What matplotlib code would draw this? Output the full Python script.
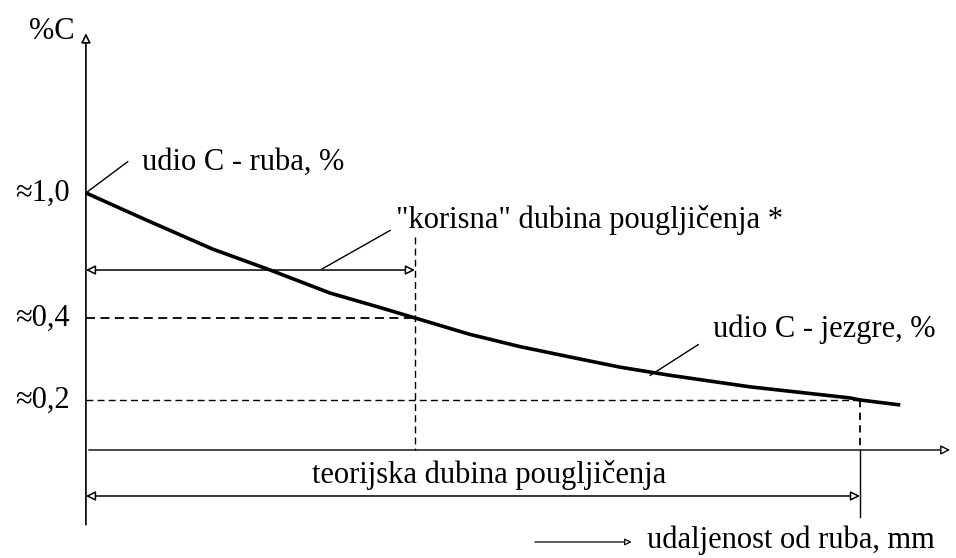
import numpy as np
import matplotlib
matplotlib.use('Agg')
import matplotlib.pyplot as plt

# udaljenost od ruba (proizvoljne jedinice, teorijska dubina = 10) i udio C u %
x_mm = [0.0, 0.78, 1.64, 2.38, 3.15, 3.80, 4.25, 4.96, 5.61, 6.25, 6.90, 7.55, 8.58, 9.87, 10.0, 10.52]
c_pct = [1.0, 0.87, 0.73, 0.63, 0.52, 0.45, 0.40, 0.36, 0.33, 0.305, 0.28, 0.26, 0.232, 0.205, 0.20, 0.18]

tick_vals = [1.0, 0.4, 0.2]
tick_labels = ['≈1,0', '≈0,4', '≈0,2']
c_rub = 1.0
c_jezgra = 0.2
dubina_korisna = 4.25
dubina_teor = 10.0

# shematska (nelinearna) os y kao na crtezu
anchor_v = np.array([-0.5, 0.0, 0.2, 0.4, 1.0, 2.0])
anchor_p = np.array([-125.0, 0.0, 50.0, 132.0, 257.0, 465.3])

def fwd(v):
    return np.interp(v, anchor_v, anchor_p)

def inv(p):
    return np.interp(p, anchor_p, anchor_v)

plt.rcParams['font.family'] = ['Liberation Serif', 'DejaVu Serif']
fs = 22

fig = plt.figure(figsize=(9.56, 5.58), dpi=100)
ax = fig.add_axes([0, 0, 1, 1])
ax.set_yscale('function', functions=(fwd, inv))
ax.set_xlim(-1.11, 11.24)
ax.set_ylim(-0.432, 1.926)
ax.axis('off')

k = 'black'
# osi
ax.annotate('', xy=(0, 1.78), xytext=(0, -0.31),
            arrowprops=dict(arrowstyle='-|>', color=k, lw=1.2, fc='white', mutation_scale=14))
ax.annotate('', xy=(11.2, 0), xytext=(0, 0),
            arrowprops=dict(arrowstyle='-|>', color=k, lw=1.0, fc='white', mutation_scale=14))

# krivulja
ax.plot(x_mm, c_pct, color=k, lw=2.6, solid_capstyle='butt')

# pomocne crtkane linije
ax.plot([0, dubina_korisna], [0.4, 0.4], color=k, lw=1.3, ls=(0, (5, 3)))
ax.plot([dubina_korisna, dubina_korisna], [0.79, 0.0], color=k, lw=1.0, ls=(0, (5, 3)))
ax.plot([0, dubina_teor], [c_jezgra, c_jezgra], color=k, lw=1.0, ls=(0, (5, 3)))
ax.plot([dubina_teor, dubina_teor], [c_jezgra, 0.0], color=k, lw=1.3, ls=(0, (4, 3)))
ax.plot([dubina_teor, dubina_teor], [0.0, -0.27], color=k, lw=1.0)

# strelice dubina
ax.annotate('', xy=(0, 0.63), xytext=(dubina_korisna, 0.63),
            arrowprops=dict(arrowstyle='<|-|>', color=k, lw=1.1, fc='white', mutation_scale=14, shrinkA=0, shrinkB=0))
ax.annotate('', xy=(0, -0.184), xytext=(dubina_teor, -0.184),
            arrowprops=dict(arrowstyle='<|-|>', color=k, lw=1.1, fc='white', mutation_scale=14, shrinkA=0, shrinkB=0))

# oznake osi y
for v, lab in zip(tick_vals, tick_labels):
    ax.text(-0.21, v, lab, ha='right', va='center', fontsize=fs)
ax.text(-0.14, 1.775, '%C', ha='right', va='center', fontsize=fs)

# natpisi s pokaznim crtama
ax.plot([0, 0.54], [c_rub, 1.15], color=k, lw=1.0)
ax.text(0.72, 1.145, 'udio C - ruba, %', ha='left', va='center', fontsize=fs)

ax.plot([3.05, 3.93], [0.635, 0.82], color=k, lw=1.0)
ax.text(4.0, 0.87, '"korisna" dubina pougljičenja *', ha='left', va='center', fontsize=fs)

ax.plot([7.29, 7.91], [0.26, 0.335], color=k, lw=1.0)
ax.text(8.1, 0.372, 'udio C - jezgre, %', ha='left', va='center', fontsize=fs)

ax.text(2.92, -0.1, 'teorijska dubina pougljičenja', ha='left', va='center', fontsize=fs)

ax.annotate('', xy=(7.05, -0.368), xytext=(5.8, -0.368),
            arrowprops=dict(arrowstyle='-|>', color=k, lw=0.9, fc='white', mutation_scale=10, shrinkA=0, shrinkB=0))
ax.text(7.25, -0.36, 'udaljenost od ruba, mm', ha='left', va='center', fontsize=fs)

fig.savefig('out.png', dpi=100)
